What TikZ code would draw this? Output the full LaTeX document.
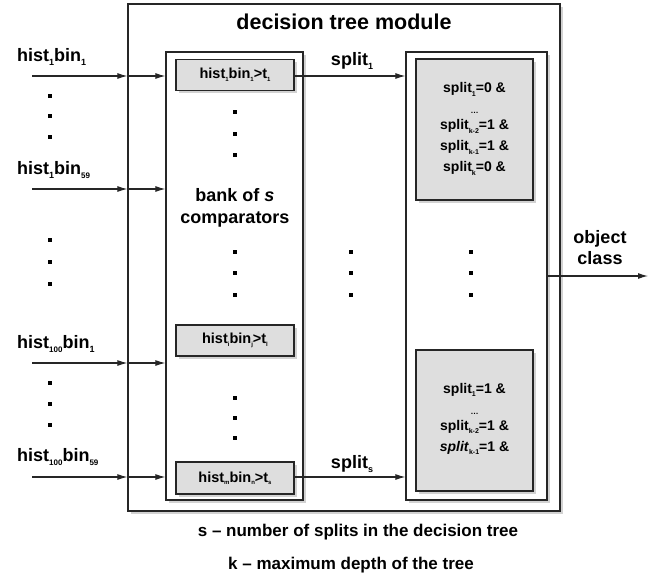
\documentclass[tikz,border=0pt]{standalone}
\usepackage{fontspec}
\setmainfont{Liberation Sans}
\usetikzlibrary{shadows,arrows.meta}
\newcommand{\lsub}[2][6]{\raisebox{-0.75\height}{\fontsize{#1}{#1}\selectfont #2}}
\begin{document}
\begin{tikzpicture}[x=1pt,y=-1pt,
  box/.style={draw=black!85, line width=1.3pt, fill=white, inner sep=0pt,
    drop shadow={shadow xshift=2.5pt, shadow yshift=-2.5pt, fill=black!35}},
  gbox/.style={box, fill=black!13},
  arr/.style={-{Latex[length=10pt,width=6pt]}, line width=1.1pt, draw=black!85},
  lbl/.style={font=\fontsize{18}{21}\selectfont\bfseries, inner sep=0pt},
  cmp/.style={font=\fontsize{14.5}{16}\selectfont\bfseries, inner sep=0pt},
  spl/.style={font=\fontsize{14}{21}\selectfont\bfseries, inner sep=0pt, align=center},
  note/.style={font=\fontsize{17}{19}\selectfont\bfseries, inner sep=0pt},
  dot/.style={fill=black}
]
\useasboundingbox (0,0) rectangle (657,579);

% boxes
\node[box, minimum width=432pt, minimum height=507pt] (outer) at (344,257.5) {};
\node[box, minimum width=137pt, minimum height=448pt] (bank) at (234.5,276) {};
\node[box, minimum width=141pt, minimum height=448pt] (rbox) at (476.5,276) {};

\node[gbox, minimum width=117pt, minimum height=141pt] (r1) at (474.5,129.5) {};
\node[gbox, minimum width=117pt, minimum height=141pt] (r2) at (474.5,420.5) {};

\node[gbox, minimum width=118pt, minimum height=31pt, cmp] (c1) at (235,75) {hist\lsub{1}bin\lsub{1}>t\lsub{1}};
\node[gbox, minimum width=118pt, minimum height=31pt, cmp] (c2) at (235,340.5) {hist\lsub{i}bin\lsub{j}>t\lsub{l}};
\node[gbox, minimum width=118pt, minimum height=32pt, cmp] (c3) at (235,478) {hist\lsub{m}bin\lsub{n}>t\lsub{s}};

% texts in boxes
\node[font=\fontsize{21.5}{24}\selectfont\bfseries, inner sep=0pt] (title) at (344,22) {decision tree module};
\node[lbl, align=center, font=\fontsize{18}{22}\selectfont\bfseries] (banktxt) at (235,208) {bank of \textit{s}\\comparators};

\node[spl] (r1txt) at (474.5,129) {split\lsub[7]{1}=0 \&\\[0pt]{\fontsize{8}{8}\selectfont\dots}\\[-5pt]split\lsub[7]{k-2}=1 \&\\split\lsub[7]{k-1}=1 \&\\split\lsub[7]{k}=0 \&};
\node[spl] (r2txt) at (474.5,419) {split\lsub[7]{1}=1 \&\\[0pt]{\fontsize{8}{8}\selectfont\dots}\\[-5pt]split\lsub[7]{k-2}=1 \&\\\textit{split}\lsub[7]{k-1}=1 \&};

% left input labels
\node[lbl, anchor=west] (l1) at (17,57) {hist\lsub[9]{1}bin\lsub[9]{1}};
\node[lbl, anchor=west] (l2) at (17,170) {hist\lsub[9]{1}bin\lsub[8]{59}};
\node[lbl, anchor=west] (l3) at (17,344) {hist\lsub[8]{100}bin\lsub[9]{1}};
\node[lbl, anchor=west] (l4) at (17,457) {hist\lsub[8]{100}bin\lsub[8]{59}};

% input arrows
\coordinate (a1) at (32,76);
\coordinate (a2) at (32,189);
\coordinate (a3) at (32,363);
\coordinate (a4) at (32,477);
\foreach \a in {a1,a2,a3,a4}{
  \draw[arr] (\a) -- (\a -| outer.west);
  \draw[arr] (\a -| outer.west) -- (\a -| bank.west);
}

% split arrows
\draw[arr] (c1.east |- a1) -- (a1 -| rbox.west);
\draw[arr] (c3.east |- a4) -- (a4 -| rbox.west);
\node[lbl] (s1) at (352,61) {split\lsub[9]{1}};
\node[lbl] (s2) at (352,464) {split\lsub[9]{s}};

% output
\coordinate (oc) at (648,276);
\draw[arr] (rbox.east) -- (oc);
\node[lbl, align=center] (octxt) at (600,248) {object\\class};

% dots
\foreach \x/\y in {50/96,50/116,50/137, 50/240,50/262,50/284, 50/383,50/404,50/425,
  235/112,235/134,235/155, 235/252,235/273,235/295, 235/398,235/418,235/438,
  351/252,351/273,351/295, 471/252,471/273,471/295}{
  \fill[dot] (\x-2,\y-2) rectangle (\x+2,\y+2);
}

% notes
\node[note] (n1) at (358,532) {s -- number of splits in the decision tree};
\node[note] (n2) at (351,565) {k -- maximum depth of the tree};
\end{tikzpicture}
\end{document}
